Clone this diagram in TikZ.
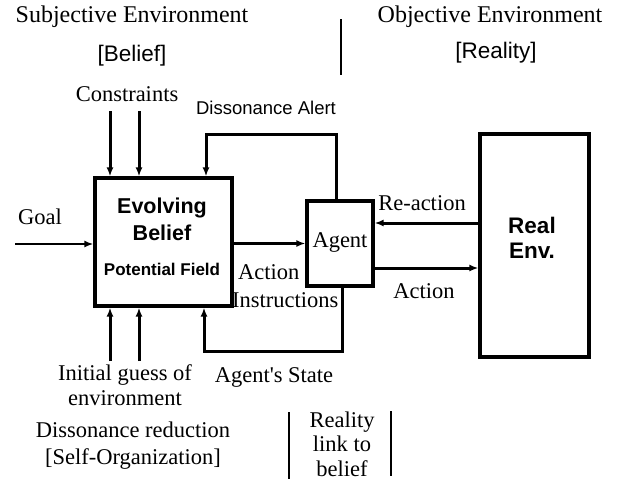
\documentclass[tikz,border=0pt]{standalone}
\usepackage{fontspec}
\setmainfont{Liberation Serif}
\setsansfont{Liberation Sans}
\usetikzlibrary{arrows.meta}
\tikzset{
  boxst/.style={draw,line width=3.2pt,minimum width=#1,inner sep=0pt},
  arr/.style={line width=3pt,-{Latex[length=9pt,width=7pt]}},
  divl/.style={line width=1.8pt},
  hdr/.style={inner sep=0pt,font=\fontsize{24}{28}\selectfont},
  ser/.style={inner sep=0pt,font=\fontsize{22.5}{25}\selectfont},
  snr/.style={inner sep=0pt,font=\sffamily\fontsize{#1}{#1}\selectfont},
  snb/.style={inner sep=0pt,font=\sffamily\bfseries\fontsize{#1}{#1}\selectfont},
}
\begin{document}
\begin{tikzpicture}[x=1pt,y=-1pt]
\useasboundingbox (0,0) rectangle (623,483);
% boxes
\node[boxst=137pt,minimum height=128pt] (eb) at (163.5,242) {};
\node[boxst=66pt,minimum height=85pt] (ag) at (340,243.5) {};
\node[boxst=109pt,minimum height=223pt] (re) at (534.5,245.5) {};
% box texts
\node[snb=21.5] (t1) at (162,208) {Evolving};
\node[snb=21.5] (t2) at (162,233) {Belief};
\node[snb=17] (t3) at (162,269) {Potential Field};
\node[ser] (t4) at (340,242) {Agent};
\node[snb=22.5] (t5) at (532,225) {Real};
\node[snb=22.5] (t6) at (532,251) {Env.};
% headers
\node[hdr] (h1) at (132,17) {Subjective Environment};
\node[snr=22.5] (h2) at (132,56) {[Belief]};
\node[hdr] (h3) at (490,17) {Objective Environment};
\node[snr=22.5] (h4) at (496,53) {[Reality]};
% labels
\node[ser] (l1) at (127,94) {Constraints};
\node[snr=18.5] (l2) at (266,108) {Dissonance Alert};
\node[ser] (l3) at (40,217) {Goal};
\node[ser] (l4) at (422,203) {Re-action};
\node[ser] (l5) at (424,291) {Action};
\node[ser,anchor=west] (l6) at (238,272) {Action};
\node[ser,anchor=west] (l7) at (232,300) {Instructions};
\node[ser,align=center] (l8) at (125,385) {Initial guess of\\environment};
\node[ser] (l9) at (274,377) {Agent\textquotesingle s State};
\node[ser,align=center,font=\fontsize{22.5}{27}\selectfont] (l10) at (133,446) {Dissonance reduction\\{[Self-Organization]}};
\node[ser,align=center,font=\fontsize{22.5}{24.5}\selectfont] (l11) at (342,444) {Reality\\link to\\belief};
% dividers
\coordinate (d1a) at (341,19); \coordinate (d1b) at (341,75);
\coordinate (d2a) at (289,412); \coordinate (d2b) at (289,479);
\coordinate (d3a) at (391,411); \coordinate (d3b) at (391,476);
\draw[divl] (d1a) -- (d1b);
\draw[divl] (d2a) -- (d2b);
\draw[divl] (d3a) -- (d3b);
% connectors
\coordinate (g0) at (15,244);
\draw[arr,line width=2.4pt] (g0) -- (g0 -| eb.west);
\draw[arr] (eb.east |- ag.west) -- (ag.west);
\coordinate (c1) at (110,111); \coordinate (c2) at (139,111);
\draw[arr] (c1) -- (c1 |- eb.north);
\draw[arr] (c2) -- (c2 |- eb.north);
\coordinate (i1) at (110,361); \coordinate (i2) at (139,361);
\draw[arr] (i1) -- (i1 |- eb.south);
\draw[arr] (i2) -- (i2 |- eb.south);
\coordinate (da) at (336,134); \coordinate (ds) at (206,134);
\draw[arr] (da |- ag.north) -- (da) -- (ds) -- (ds |- eb.north);
\coordinate (sa) at (342,351); \coordinate (sb) at (204,351);
\draw[arr] (sa |- ag.south) -- (sa) -- (sb) -- (sb |- eb.south);
\coordinate (ry) at (0,223); \coordinate (ay) at (0,268);
\draw[arr] (re.west |- ry) -- (ag.east |- ry);
\draw[arr] (ag.east |- ay) -- (re.west |- ay);
\end{tikzpicture}
\end{document}
